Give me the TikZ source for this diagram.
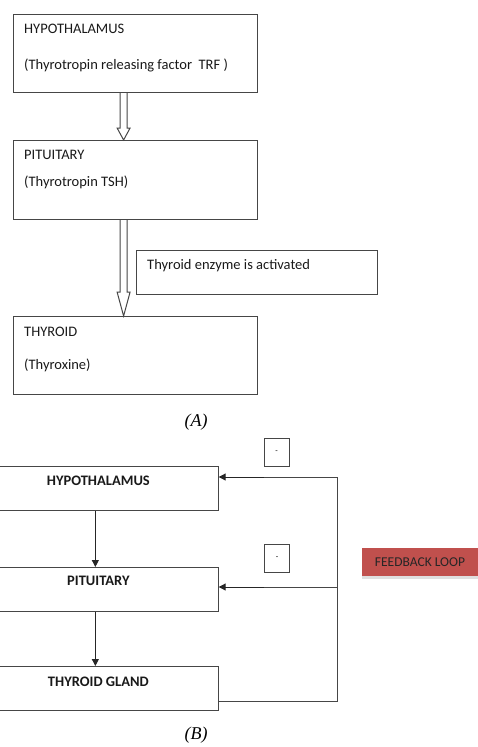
\documentclass[tikz,border=0pt]{standalone}
\usepackage{fontspec}
\setmainfont{Liberation Serif}
\newfontfamily\boxfont{Carlito}
\usetikzlibrary{arrows.meta,calc,shadows}

\definecolor{edgegray}{RGB}{70,70,70}
\definecolor{loopred}{RGB}{192,80,77}

% from, to, x offset, head length
\newcommand\hollowarrow[4]{%
  \draw[hollow] ($(#1)+(#3-3.5,0)$) -- ($(#2)+(#3-3.5,-#4)$) -- ($(#2)+(#3-6.5,-#4)$)
    -- ($(#2)+(#3,0)$) -- ($(#2)+(#3+6.5,-#4)$) -- ($(#2)+(#3+3.5,-#4)$) -- ($(#1)+(#3+3.5,0)$);}

\begin{document}
\begin{tikzpicture}[
    x=1pt, y=-1pt,
    every node/.style={font=\boxfont\fontsize{14.5}{17}\selectfont},
    organ/.style={draw=edgegray, line width=1.2pt, anchor=north west, inner sep=0pt, minimum width=244pt},
    note/.style={anchor=west, inner sep=0pt, text=black!90},
    gland/.style={draw=edgegray, line width=1.2pt, anchor=north west, inner sep=0pt, minimum width=239.5pt, minimum height=44pt},
    glandname/.style={inner sep=0pt, text=black!90, font=\boxfont\bfseries\fontsize{14.5}{17}\selectfont},
    sign/.style={draw=edgegray, line width=1pt, minimum width=25pt, minimum height=28pt, inner sep=0pt, font=\boxfont\fontsize{8}{8}\selectfont},
    tag/.style={fill=loopred, minimum width=116pt, minimum height=28pt, inner sep=0pt, text=black!85,
        font=\boxfont\fontsize{13.5}{15}\selectfont, drop shadow={shadow xshift=0pt, shadow yshift=-3pt, fill=black!25}},
    caption/.style={inner sep=0pt, font=\rmfamily\itshape\fontsize{18}{20}\selectfont},
    hollow/.style={draw=edgegray, fill=white, line width=1pt, line join=miter},
    flow/.style={draw=black!85, line width=1pt, -{Triangle[length=7pt, width=7pt]}},
    fbline/.style={draw=edgegray, line width=1pt}
]
\useasboundingbox (0,0) rectangle (477,747);

% (A)
\node[organ, minimum height=78pt] (hypoA) at (13,14) {};
\node[note] (hypoAname) at ($(hypoA.north west)+(11,15)$) {HYPOTHALAMUS};
\node[note] (hypoAhorm) at ($(hypoA.north west)+(11,51)$) {(Thyrotropin releasing factor\ \ TRF )};

\node[organ, minimum height=79pt] (pitA) at (13,140) {};
\node[note] (pitAname) at ($(pitA.north west)+(11,15)$) {PITUITARY};
\node[note] (pitAhorm) at ($(pitA.north west)+(11,42)$) {(Thyrotropin TSH)};

\node[draw=edgegray, line width=1.2pt, anchor=north west, inner sep=0pt, minimum width=241pt, minimum height=44pt] (enzyme) at (136,250) {};
\node[note] (enzymetext) at ($(enzyme.north west)+(11,16)$) {Thyroid enzyme is activated};

\node[organ, minimum height=78pt] (thyA) at (13,316) {};
\node[note] (thyAname) at ($(thyA.north west)+(11,16)$) {THYROID};
\node[note] (thyAhorm) at ($(thyA.north west)+(11,49)$) {(Thyroxine)};

\hollowarrow{hypoA.south}{pitA.north}{-12}{12}
\hollowarrow{pitA.south}{thyA.north}{-12}{24}

\node[caption] (capA) at (196,422) {(A)};

% (B)
\node[gland] (hypoB) at (-22,466) {};
\node[glandname] (hypoBname) at ($(hypoB.north)+(0,15)$) {HYPOTHALAMUS};
\node[gland] (pitB) at (-22,567) {};
\node[glandname] (pitBname) at ($(pitB.north)+(0,14)$) {PITUITARY};
\node[gland] (thyB) at (-22,666) {};
\node[glandname] (thyBname) at ($(thyB.north)+(0,16)$) {THYROID GLAND};

\draw[flow] ([xshift=-3pt]hypoB.south) -- ([xshift=-3pt]pitB.north);
\draw[flow] ([xshift=-3pt]pitB.south) -- ([xshift=-3pt]thyB.north);

\node[sign] (minusA) at (276.5,452) {-};
\node[sign] (minusB) at (277,558.5) {-};

\coordinate (fbtop) at (337,477);
\coordinate (fbmid) at (337,587);
\draw[fbline] ([yshift=-13pt]thyB.east) -| (fbtop);
\draw[fbline] (fbtop) -- (fbtop -| minusA.west);
\draw[flow] (fbtop -| minusA.west) -- (fbtop -| hypoB.east);
\draw[fbline] (fbmid) -- (fbmid -| minusB.west);
\draw[flow] (fbmid -| minusB.west) -- (fbmid -| pitB.east);

\node[tag] (fbtag) at (420,562) {FEEDBACK LOOP};

\node[caption] (capB) at (196,735) {(B)};
\end{tikzpicture}
\end{document}
